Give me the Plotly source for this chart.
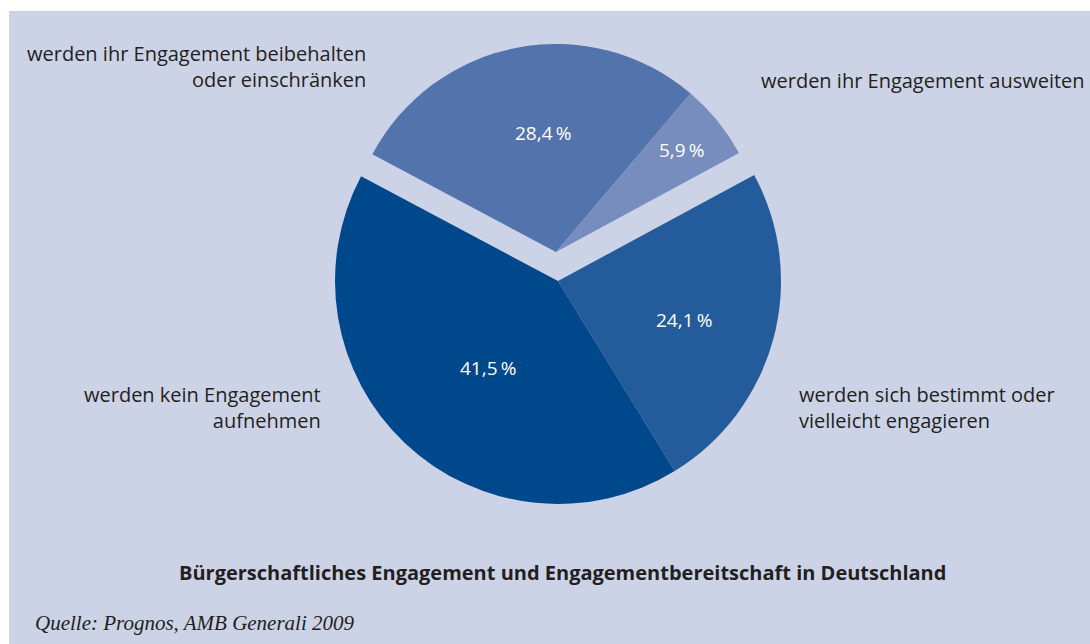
import math
import plotly.graph_objects as go

# ---- data ----
categories = [
    "werden ihr Engagement beibehalten oder einschränken",
    "werden ihr Engagement ausweiten",
    "werden sich bestimmt oder vielleicht engagieren",
    "werden kein Engagement aufnehmen",
]
values = [28.4, 5.9, 24.1, 41.5]
pulled_group = [True, True, False, False]   # slices that are pulled out together
colors = ["#5373AD", "#778DBE", "#245B9B", "#00488C"]
outer_labels = [
    "werden ihr Engagement beibehalten<br>oder einschränken",
    "werden ihr Engagement ausweiten",
    "werden sich bestimmt oder<br>vielleicht engagieren",
    "werden kein Engagement<br>aufnehmen",
]
title_text = "Bürgerschaftliches Engagement und Engagementbereitschaft in Deutschland"
source_text = "Quelle: Prognos, AMB Generali 2009"

W, H = 1090, 644
BG = "#CDD3E7"
TXT = "#231F20"
FONT = "Open Sans"

def fmt(v):
    return f"{v:.1f}".replace(".", ",") + "\u2009%"

# pie geometry (pixels): (center x, center y, radius) for base and pulled group
geom = {False: (558, 281, 223), True: (556, 252, 208)}
rotation = -62
label_radius = [0.576, 0.78, 0.59, 0.50]       # relative radius of value labels
label_angle_frac = [0.546, 0.50, 0.527, 0.472]  # position within the slice angle

def dom(cx, cy, r):
    return dict(
        x=[(cx - r) / W, (cx + r) / W],
        y=[1 - (cy + r) / H, 1 - (cy - r) / H],
    )

fig = go.Figure()
for group in (False, True):
    cols = [c if g == group else "rgba(0,0,0,0)" for c, g in zip(colors, pulled_group)]
    fig.add_trace(go.Pie(
        labels=categories, values=values, sort=False, direction="clockwise",
        rotation=rotation, domain=dom(*geom[group]),
        marker=dict(colors=cols, line=dict(width=0)),
        textinfo="none", hoverinfo="skip", showlegend=False,
    ))

shapes = [dict(type="rect", xref="paper", yref="paper",
               x0=9 / W, x1=1, y0=0, y1=1 - 11 / H,
               fillcolor=BG, line=dict(width=0), layer="below")]

annotations = []
# value labels placed inside their slices
total = sum(values)
start = rotation
for v, g, lr, af in zip(values, pulled_group, label_radius, label_angle_frac):
    span = v / total * 360
    ang = math.radians(start + span * af)
    start += span
    cx, cy, r = geom[g]
    px = cx + lr * r * math.sin(ang)
    py = cy - lr * r * math.cos(ang)
    annotations.append(dict(
        text=fmt(v), x=px / W, y=1 - py / H, xref="paper", yref="paper",
        xanchor="center", yanchor="middle", showarrow=False,
        font=dict(family=FONT, size=19, color="white")))

label_pos = [  # (x_px, y_px of first line, anchor)
    (368, 53, "right"),
    (759, 80, "left"),
    (797, 394, "left"),
    (323, 394, "right"),
]
for lab, (x, y, anc) in zip(outer_labels, label_pos):
    annotations.append(dict(
        text=lab, x=x / W, y=1 - (y - 15) / H, xref="paper", yref="paper",
        xanchor=anc, yanchor="top", align=anc, showarrow=False,
        font=dict(family=FONT, size=20, color=TXT),
    ))
annotations.append(dict(
    text="<b>" + title_text + "</b>", x=563 / W, y=1 - 572 / H,
    xref="paper", yref="paper", xanchor="center", yanchor="middle",
    showarrow=False, font=dict(family=FONT, size=20, color=TXT)))
annotations.append(dict(
    text="<i>" + source_text + "</i>", x=33 / W, y=1 - 623 / H,
    xref="paper", yref="paper", xanchor="left", yanchor="middle",
    showarrow=False, font=dict(family="Liberation Serif", size=21, color=TXT)))

fig.update_layout(
    width=W, height=H, margin=dict(l=0, r=0, t=0, b=0),
    paper_bgcolor="white", plot_bgcolor="white",
    shapes=shapes, annotations=annotations,
)
fig.write_html("out.html", config={"displayModeBar": False},
               post_script="document.body.style.margin='0';document.body.style.overflow='hidden';")
